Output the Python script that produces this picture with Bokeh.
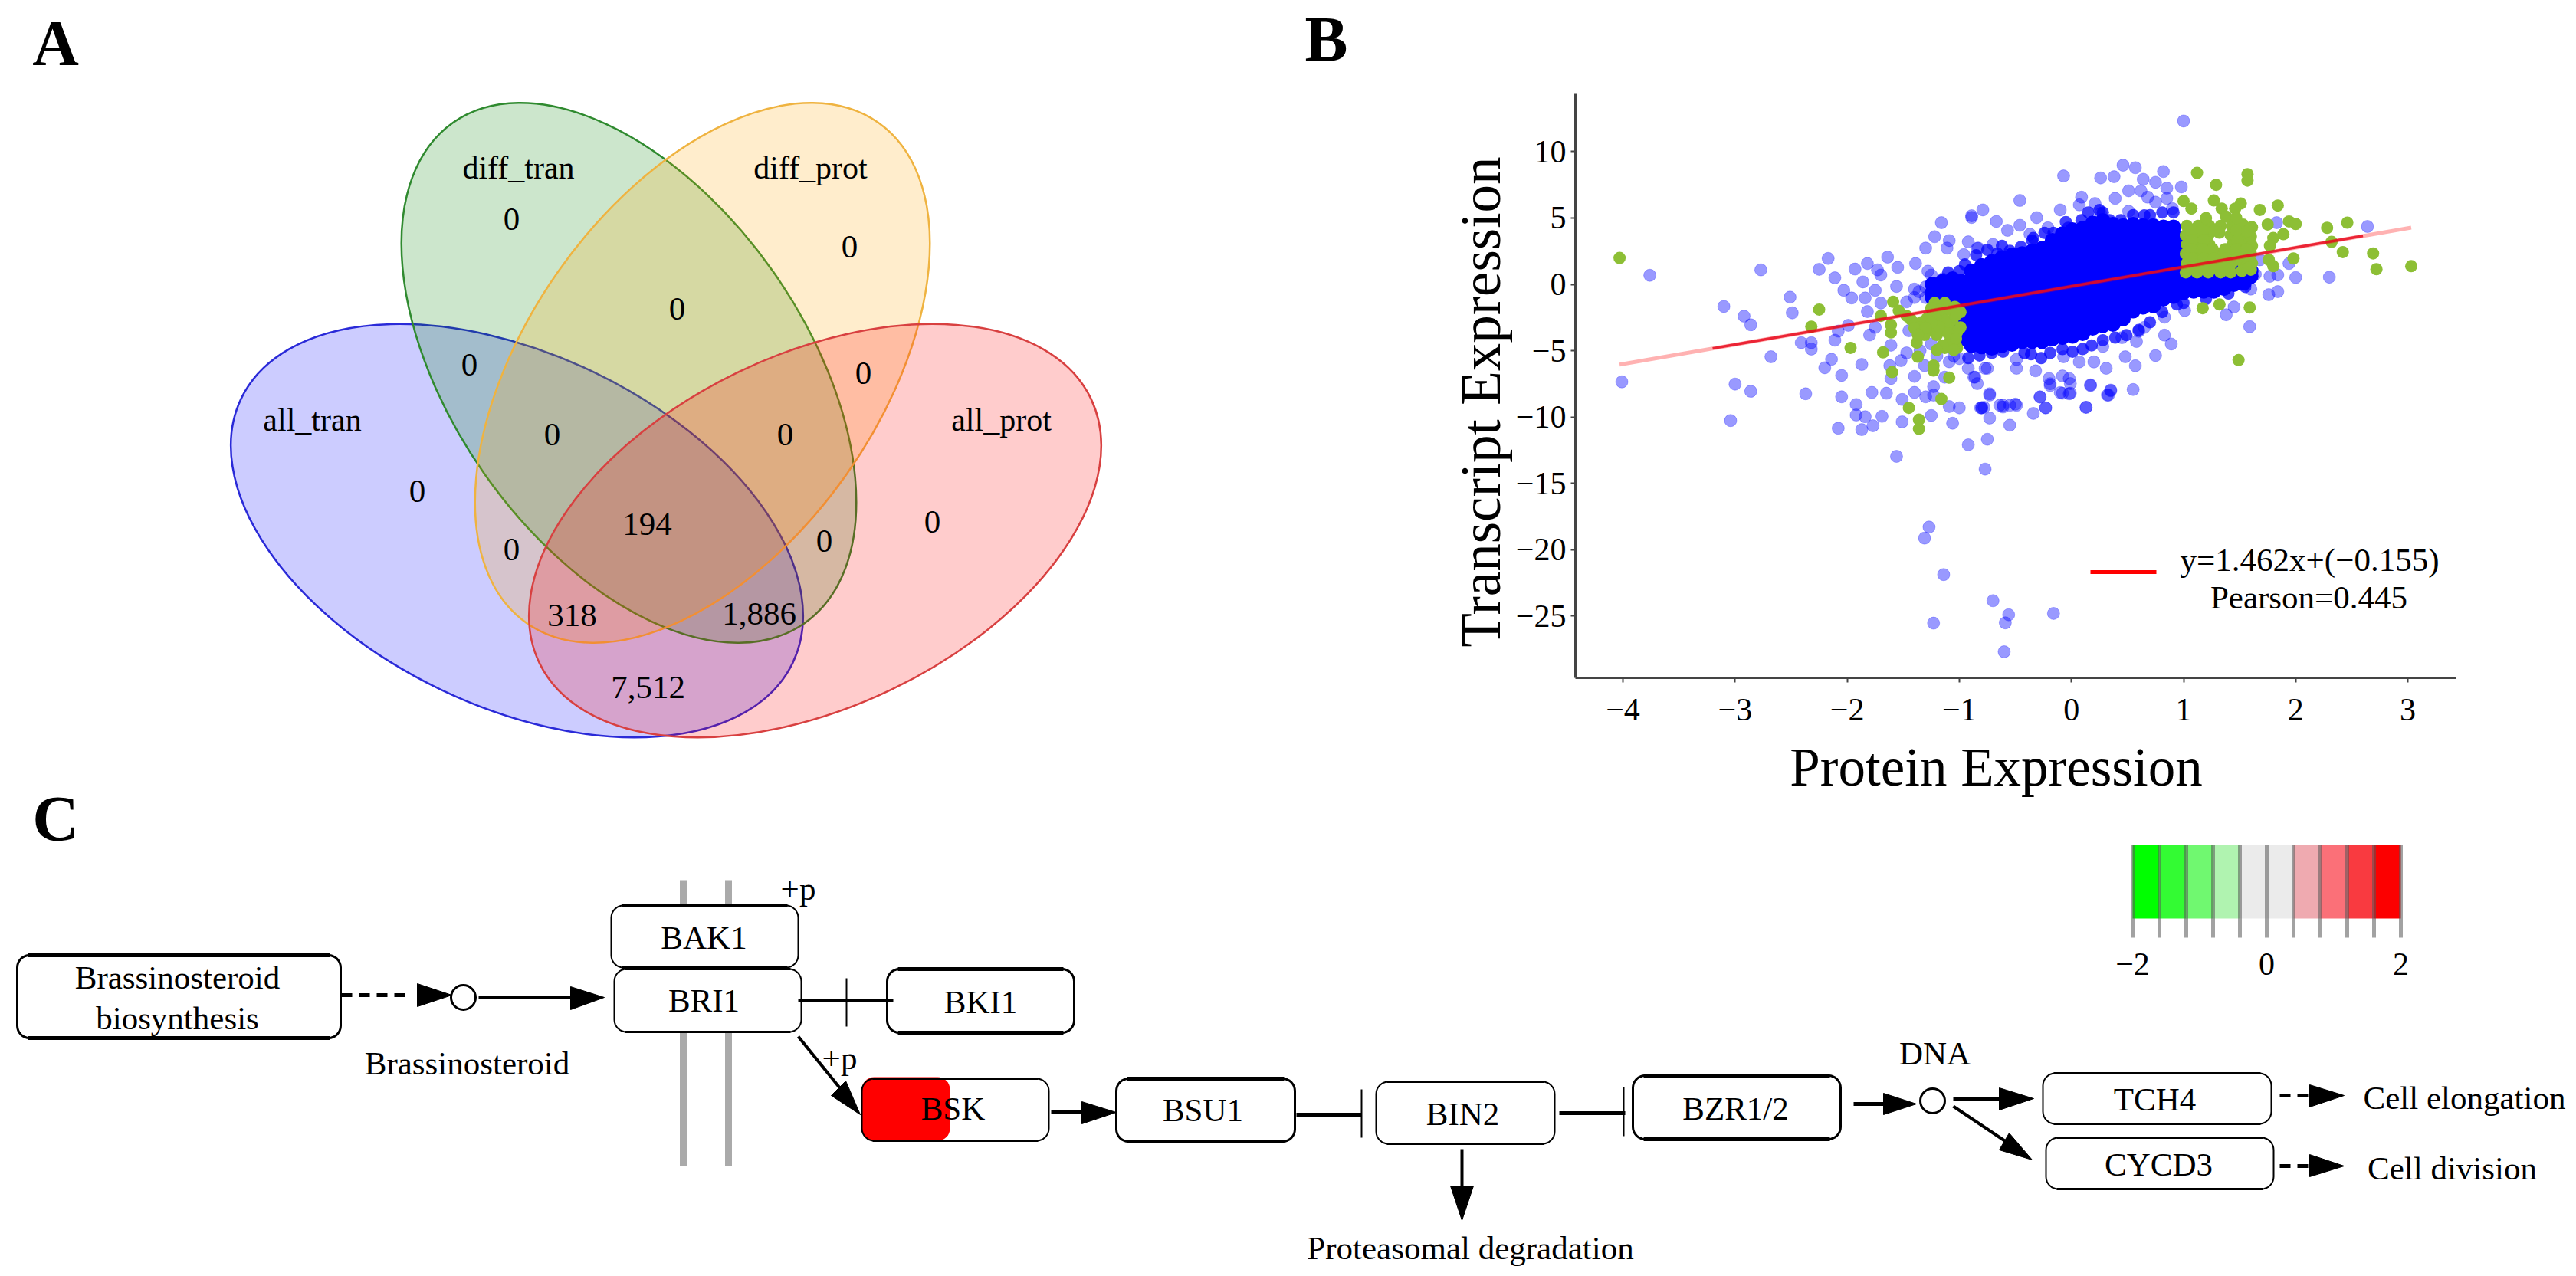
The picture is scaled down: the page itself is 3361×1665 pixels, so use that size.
import math
from bokeh.plotting import figure
from bokeh.models import Range1d, FixedTicker, LinearAxis
from bokeh.core.properties import value
from bokeh.embed import file_html
from bokeh.resources import INLINE

FONT = "Liberation Serif"

# ---------- Panel A data ----------
venn_sets = ["all_tran", "diff_tran", "diff_prot", "all_prot"]
venn_counts = ["0", "0", "0", "0", "0", "0", "0", "0", "0", "0", "0", "194", "318", "1,886", "7,512"]

# ---------- Panel B data ----------
blue_x = [-3.76,-2.77,-2.25,-2.17,-2.11,-1.93,-1.82,-1.64,-1.86,-2.51,-2.49,-3.10,-2.92,-2.86,-2.03,-1.96,-1.84,-1.75,-1.82,-1.70,-1.55,-1.73,-1.70,-1.56,-1.39,-1.28,-1.30,-1.22,-1.16,-0.89,-1.09,-0.96,-1.11,-0.83,-1.40,-1.47,-1.36,-1.99,-2.08,-2.11,-1.80,-1.75,-2.41,-2.32,-2.32,-2.68,-2.14,-2.20,-2.05,-1.87,-1.61,-1.47,-1.52,-1.62,-1.61,-1.40,-1.31,-1.09,-0.92,-0.86,-0.84,-0.77,-1.13,-4.01,-3.00,-2.86,-2.37,-2.05,-1.78,-1.65,-1.92,-1.92,-1.84,-1.69,-1.77,-1.87,-2.08,-3.04,-1.51,-1.40,-1.30,-1.23,-1.23,-1.09,-1.00,-1.25,-1.51,-1.06,-0.80,-0.73,-0.73,-0.75,-0.92,-1.56,-0.77,
          -1.27,-1.31,-1.14,-0.70,-0.56,-0.59,-0.16,-1.23,-0.60,-0.55,-0.34,-0.23,-0.28,0.13,-0.81,-0.78,-0.64,-0.61,-0.55,-0.49,-0.08,-0.01,0.17,0.35,0.33,-0.19,-0.01,
          1.00,-0.07,0.26,0.38,0.46,0.57,0.82,0.64,0.75,0.98,0.85,0.51,0.62,0.39,0.68,0.85,0.09,0.07,0.21,-0.46,-0.10,-0.89,-0.79,-0.67,-0.31,-0.46,-0.57,-0.21,-0.37,-0.92,-0.84,-0.70,0.51,0.90,0.26,0.75,
          1.83,2.64,2.30,2.00,1.94,1.84,1.77,1.64,1.60,1.84,1.76,1.68,1.59,1.45,1.38,1.01,0.83,0.65,0.60,0.83,0.89,0.75,0.45,0.28,0.58,0.48,0.57,0.31,0.20,0.07,-0.07,-0.49,-0.49,-0.32,-0.20,-0.19,-0.02,-0.08,-0.87,-0.75,0.17,0.35,0.55,0.32,-0.10,-0.02,-0.28,-0.23,0.13,-0.73,-0.80,-0.61,-0.50,
          -1.30,-1.20,-1.10,-1.05,-1.15,-1.25,-1.30,-1.40,-1.20,-1.10,-1.35,-1.45,-1.25,-1.35,-1.20,-1.05,-1.00]
blue_y = [0.68,1.09,1.13,1.95,0.49,1.15,1.57,2.05,0.18,-0.97,-2.15,-1.67,-2.40,-3.05,-0.45,-1.03,-1.03,-0.45,-2.05,-1.41,1.28,1.09,0.70,-0.16,1.57,0.99,2.73,3.59,4.65,5.04,3.30,2.24,2.73,2.73,-0.36,-1.32,-0.55,-3.09,-3.53,-4.21,-3.82,-3.25,-4.40,-4.40,-4.88,-5.46,-5.65,-6.29,-6.87,-6.04,-4.59,-5.17,-5.75,-6.13,-7.10,-6.94,-6.13,-5.84,-6.33,-7.00,-7.48,-6.33,-7.00,-7.35,-7.52,-8.06,-8.25,-8.48,-8.15,-8.21,-9.06,-9.85,-9.98,-9.95,-10.66,-10.95,-10.85,-10.27,-8.68,-8.15,-8.48,-7.71,-8.35,-9.21,-9.31,-9.89,-10.37,-10.47,-9.31,-8.25,-10.08,-11.68,-12.10,-12.97,-13.93,
          -18.30,-19.13,-21.88,-23.85,-24.91,-25.52,-24.81,-25.54,-27.70,-10.62,-9.73,-9.31,-8.48,-9.27,-9.31,-9.27,-9.12,-9.25,-9.12,-9.12,-8.21,-8.21,-7.63,-8.02,-8.35,-7.63,-7.48,
          12.31,8.17,8.02,8.11,8.98,8.79,8.50,7.92,7.69,7.34,7.25,7.05,7.05,6.48,6.57,6.48,6.57,5.99,6.09,6.32,5.61,5.17,5.61,4.74,5.03,4.45,4.07,4.26,3.78,3.20,2.72,3.01,5.51,5.71,5.32,6.19,
          4.65,4.36,0.54,0.51,1.57,0.70,0.60,0.76,-0.36,-0.55,-0.78,1.85,-3.19,-1.71,-2.29,-1.98,-2.48,-3.25,-3.54,-3.83,-4.50,-5.37,-4.02,-4.69,-4.31,-5.46,-6.14,-6.33,-5.85,-5.85,-5.46,-5.66,-6.33,-6.52,-7.10,-7.49,-7.10,-6.91,-7.00,-6.33,-7.58,-7.97,-7.93,-8.35,-8.16,-8.25,-8.50,-9.31,-9.27,-8.35,-9.31,-9.12,-9.03,
          -0.2,-0.6,-0.4,0.3,0.4,0.7,-1.0,-1.0,-1.1,-1.0,-3.6,-3.5,-4.5,-5.0,-5.4,-5.4,-5.6]

# points along the rim of the saturated cloud, where many overlap
edge_x = [-0.92,-0.82,-0.71,-0.61,-0.42,-0.36,-0.27,-0.19,-0.08,0.01,0.10,0.18,0.28,0.39,0.49,0.60,0.70,0.81,0.94,
          1.00,1.20,1.40,1.55,-0.95,-0.85,-0.75,-1.0,-1.1,
          -0.66,-0.55,-0.45,-0.34,-0.24,-0.16,-0.03,0.09,0.15,0.28,0.34,0.44,0.55,0.70,0.81,0.91,-0.62,-0.35,-0.05,0.25,0.65]
edge_y = [-5.56,-5.37,-5.17,-5.08,-5.17,-5.27,-5.56,-5.17,-4.88,-5.08,-4.88,-4.60,-4.21,-4.02,-3.83,-3.44,-2.86,-2.09,-1.52,
          -1.4,-1.1,-0.7,-0.2,1.5,2.2,2.6,1.0,0.9,
          2.33,2.53,2.82,3.49,3.88,3.88,4.26,4.84,5.42,5.42,4.84,4.84,5.22,5.22,5.42,5.42,2.9,3.3,4.7,5.6,5.2]

# the saturated centre of the cloud: one x with the y values read at that x
core_x = [-1.24,-1.15,-1.06,-0.98,-0.89,-0.80,-0.71,-0.62,-0.53,-0.44,-0.35,-0.26,-0.17,-0.08,0.01,0.10,0.19,0.28,0.37,0.46,0.55,0.64,0.73,0.82,0.91,1.00,1.09,1.18,1.27,1.36,1.45,1.54,1.60]
core_y = [[0.0,-0.6,-1.0],[0.2,-0.4,-1.0],[0.4,-0.2,-0.8,-1.4],
 [0.2,-0.4,-1.0,-1.7,-2.3,-2.9,-3.5,-4.1],
 [1.0,0.4,-0.3,-0.9,-1.5,-2.1,-2.7,-3.3,-4.0,-4.6],
 [1.4,0.8,0.1,-0.5,-1.1,-1.8,-2.4,-3.0,-3.6,-4.2,-4.7],
 [1.7,1.1,0.4,-0.2,-0.8,-1.4,-2.0,-2.6,-3.3,-3.9,-4.5,-4.8],
 [2.0,1.4,0.8,0.2,-0.5,-1.1,-1.7,-2.3,-2.9,-3.6,-4.2,-4.6],
 [2.2,1.6,1.0,0.4,-0.2,-0.8,-1.4,-2.0,-2.7,-3.3,-3.9,-4.5],
 [2.3,1.7,1.1,0.5,-0.1,-0.7,-1.3,-1.9,-2.5,-3.1,-3.7,-4.3],
 [2.5,1.9,1.3,0.7,0.0,-0.6,-1.2,-1.8,-2.4,-3.1,-3.7,-4.3],
 [2.7,2.1,1.5,0.9,0.3,-0.3,-1.0,-1.6,-2.2,-2.8,-3.4,-4.0,-4.3],
 [3.3,2.7,2.1,1.4,0.8,0.2,-0.4,-1.0,-1.6,-2.3,-2.9,-3.5,-4.1],
 [3.8,3.2,2.6,2.0,1.4,0.8,0.1,-0.5,-1.1,-1.7,-2.3,-2.9,-3.5,-4.0],
 [4.1,3.5,2.9,2.2,1.6,1.0,0.4,-0.2,-0.8,-1.5,-2.1,-2.7,-3.3,-3.9],
 [4.2,3.6,3.0,2.4,1.8,1.2,0.6,-0.1,-0.7,-1.3,-1.9,-2.5,-3.1,-3.7],
 [4.6,4.0,3.4,2.7,2.1,1.5,0.9,0.3,-0.3,-1.0,-1.6,-2.2,-2.8,-3.3],
 [4.8,4.2,3.6,3.0,2.4,1.8,1.2,0.5,-0.1,-0.7,-1.3,-1.9,-2.5,-3.1],
 [4.5,3.9,3.3,2.7,2.0,1.4,0.8,0.2,-0.4,-1.1,-1.7,-2.3,-3.0],
 [4.4,3.8,3.2,2.6,2.0,1.4,0.7,0.1,-0.5,-1.1,-1.7,-2.3,-2.6],
 [4.5,3.9,3.3,2.6,2.0,1.4,0.8,0.2,-0.4,-1.0,-1.6,-2.0],
 [4.4,3.8,3.2,2.6,2.0,1.3,0.7,0.1,-0.5,-1.1,-1.7],
 [4.4,3.8,3.1,2.5,1.9,1.3,0.7,0.1,-0.6,-1.2,-1.6],
 [4.3,3.7,3.1,2.5,1.9,1.2,0.6,0.0,-0.6,-1.1],
 [4.3,3.7,3.0,2.4,1.8,1.2,0.6,0.0,-0.6,-0.9],
 [3.5,2.9,2.3,1.7,1.0,0.4,-0.2,-0.6],
 [1.5,0.9,0.3,-0.3,-0.5],[1.5,0.9,0.3,-0.2,-0.5],[1.5,0.9,0.3,-0.3,-0.5],
 [1.5,0.9,0.3,-0.3],[1.5,0.9,0.3,0.0],[1.5,0.9,0.4,0.1],[1.0,0.6]]

green_x = [-4.03,-2.25,-2.32,-1.97,-1.68,-1.60,-1.45,-1.36,-1.36,-1.16,-1.09,-1.23,-1.37,-1.61,-1.61,-1.59,-1.54,-1.70,
           -1.22,-1.13,-1.04,-0.99,-1.06,-0.99,-1.15,-1.24,-1.34,-1.43,-1.27,-1.36,-1.20,-1.38,-1.31,-1.13,-1.02,-1.09,-1.47,-1.09,-1.15,-1.23,
           -1.17,-1.08,-1.25,-1.29,-1.20,-1.12,-1.03,-1.02,-1.10,-1.03,-1.18,-1.25,-1.40,-1.30,-1.37,-1.15,-1.05,-1.20,
           1.12,1.57,1.57,1.29,1.00,1.07,1.27,1.34,1.51,1.46,1.68,1.84,1.75,1.94,2.00,1.89,1.80,1.77,2.28,2.46,2.32,2.42,2.69,2.72,3.03,1.98,1.80,1.76,1.17,1.32,1.59,1.49,
           1.03,1.02,1.03,1.02,1.03,1.02,1.13,1.12,1.13,1.12,1.13,1.12,1.23,1.22,1.23,1.22,1.23,1.22,1.33,1.32,1.33,1.32,1.33,1.43,1.42,1.43,1.42,1.43,1.42,1.53,1.52,1.53,1.52,1.53,1.52,1.61,1.60,1.61,1.60,1.61,1.60,1.20,1.38,1.47,
           1.07,1.08,1.07,1.08,1.07,1.17,1.18,1.17,1.18,1.17,1.27,1.26,1.27,1.28,1.37,1.38,1.37,1.47,1.48,1.47,1.48,1.57,1.56,1.57,1.58]
green_y = [1.99,-1.90,-3.19,-4.79,-5.13,-6.62,-9.31,-10.20,-10.90,-8.64,-7.04,-6.13,-5.46,-3.63,-3.05,-1.32,-2.00,-2.38,
           -1.41,-1.41,-1.70,-2.09,-2.67,-3.25,-2.47,-2.28,-2.86,-2.67,-3.44,-3.25,-3.82,-4.40,-3.82,-4.79,-4.79,-4.40,-2.38,-3.25,-3.25,-6.50,
           -1.90,-1.90,-1.80,-2.60,-2.70,-2.90,-2.30,-3.60,-3.70,-4.10,-3.20,-2.90,-3.30,-3.30,-3.80,-4.60,-4.95,-4.95,
           8.40,8.31,7.82,7.50,6.28,5.71,6.32,5.71,6.09,5.71,5.61,5.94,4.51,4.74,4.55,3.78,3.49,2.91,4.26,4.65,3.20,2.43,2.33,1.14,1.37,1.95,1.37,1.85,-1.80,-1.52,-1.75,-5.71,
           4.4,3.7,3.0,2.3,1.6,0.9,4.4,3.7,3.0,2.3,1.6,0.9,4.4,3.7,3.0,2.3,1.6,0.9,4.4,3.9,2.3,1.6,0.9,4.4,3.7,2.9,2.3,1.6,0.9,4.5,3.7,3.0,2.3,1.6,1.0,4.3,3.6,2.9,2.3,1.6,1.1,5.0,5.1,5.0,
           4.05,3.35,2.65,1.95,1.25,4.05,3.35,2.65,1.95,1.25,4.05,2.65,1.95,1.25,2.65,1.95,1.25,4.05,3.3,2.65,1.95,4.0,2.65,1.95,1.25]

fit_x = [-4.03, 3.03]
fit_y = [-6.05, 4.27]
fit_core_x = [-3.2, 2.6]
fit_core_y = [-4.83, 3.65]
x_ticks = [-4, -3, -2, -1, 0, 1, 2, 3]
y_ticks = [-25, -20, -15, -10, -5, 0, 5, 10]

# ---------- Panel C data ----------
scale_values = [-2.0, -1.6, -1.2, -0.8, -0.4, 0.0, 0.4, 0.8, 1.2, 1.6, 2.0]
scale_colors = ["#00ff00", "#33fb33", "#70f870", "#b0f3b0", "#ebebeb", "#ebebeb", "#efaab0", "#fb7078", "#f93a40", "#fc0000"]
scale_labels = ["\u22122", "0", "2"]
gene_names = ["Brassinosteroid\nbiosynthesis", "BAK1", "BRI1", "BKI1", "BSK", "BSU1", "BIN2", "BZR1/2", "TCH4", "CYCD3"]

# One canvas. Its default ranges are the page layout; panel B's values have their own ranges.
W, H = 3353, 1657
p = figure(width=W, height=H, x_range=Range1d(0, W), y_range=Range1d(H, 0),
           output_backend="svg", toolbar_location=None, min_border=0,
           x_axis_type=None, y_axis_type=None, outline_line_color=None)
p.grid.visible = False

PX_X, PX_Y = 146.3, 17.31   # panel B: layout units per data unit
X0, Y0 = 2117 + 4 * PX_X, 370.5   # layout position of data (0, 0)
p.extra_x_ranges = {"bx": Range1d((0 - X0) / PX_X, (W - X0) / PX_X)}
p.extra_y_ranges = {"by": Range1d((Y0 - H) / PX_Y, (Y0 - 0) / PX_Y)}

def put(x, y, txt, size=43, **kw):
    p.text([x], [y], text=[txt], text_font=value(FONT), text_font_size=f"{size}px",
           text_align=kw.pop("align", "center"), text_baseline=kw.pop("baseline", "middle"),
           text_color="black", **kw)

# =============== Panel A ===============
ell_fill = ["#0000ff", "#008000", "#ffa500", "#ff0000"]
ell_line = ["#2a2ad8", "#2f8a2f", "#efb340", "#d84040"]
ell_cx = [674, 820, 916, 1063]
ell_cy = [692, 486, 486, 692]
ell_ang = [-25.6, -54.9, 54.9, 25.6]
for cx, cy, ang, fc, lc in zip(ell_cx, ell_cy, ell_ang, ell_fill, ell_line):
    p.ellipse([cx], [cy], width=798, height=460, angle=math.radians(ang),
              fill_color=fc, fill_alpha=0.2, line_color=lc, line_width=2.5)
set_pos = [(407, 547), (676, 218), (1057, 218), (1306, 547)]
for (x, y), t in zip(set_pos, venn_sets):
    put(x, y, t, 42)
count_pos = [(667,285),(1108,321),(883,402),(612,475),(1126,486),(720,566),(1024,566),(544,640),(1216,680),(667,716),(1075,705),(844,683),(746,802),(990,800),(845,896)]
for (x, y), t in zip(count_pos, venn_counts):
    put(x, y, t, 43)
put(72, 56, "A", 84, text_font_style="bold")

# =============== Panel B ===============
R = dict(x_range_name="bx", y_range_name="by")
p.scatter(blue_x, blue_y, size=16, fill_color="#0000ff", fill_alpha=0.4, line_color="#0000ff", line_alpha=0.25, line_width=1, **R)
p.scatter(edge_x, edge_y, size=16, fill_color="#0000ff", fill_alpha=0.75, line_color=None, **R)
cx = [x for x, ys in zip(core_x, core_y) for _ in ys]
cy = [y for ys in core_y for y in ys]
p.scatter(cx, cy, size=16, fill_color="#0000ff", line_color="#0000ff", line_width=4, **R)
p.scatter(green_x, green_y, size=16, fill_color="#8dbf35", line_color=None, **R)
p.line(fit_x, fit_y, line_color="#ff0000", line_alpha=0.3, line_width=5, **R)
p.line(fit_core_x, fit_core_y, line_color="#e80a1e", line_alpha=0.85, line_width=3.5, **R)

xax = LinearAxis(x_range_name="bx", fixed_location=884, bounds=(-4.424, 3.43))
yax = LinearAxis(y_range_name="by", fixed_location=2055, bounds=(-29.66, 14.36))
p.add_layout(xax, "below")
p.add_layout(yax, "left")
for ax, ticks in ((xax, x_ticks), (yax, y_ticks)):
    ax.ticker = FixedTicker(ticks=ticks)
    ax.major_label_overrides = {t: str(t).replace("-", "\u2212") for t in ticks}
    ax.axis_line_color = "#444444"
    ax.axis_line_width = 3
    ax.major_tick_line_color = "#444444"
    ax.major_tick_line_width = 2
    ax.major_tick_in = 0
    ax.major_tick_out = 6
    ax.minor_tick_line_color = None
    ax.major_label_text_font = FONT
    ax.major_label_text_font_size = "42px"
    ax.major_label_text_color = "black"
xax.major_label_standoff = 21
yax.major_label_standoff = 6

put(2604, 1000, "Protein Expression", 71)
put(1932, 524, "Transcript Expression", 73, angle=math.pi / 2)
put(1730, 51, "B", 84, text_font_style="bold")
put(3013, 730, "y=1.462x+(\u22120.155)", 43)
put(3012, 779, "Pearson=0.445", 43)
p.line([2727, 2813], [746, 746], line_color="#ff0000", line_width=5)

# =============== Panel C ===============
put(72, 1068, "C", 84, text_font_style="bold")
p.segment([891, 950], [1148, 1148], [891, 950], [1521, 1521], line_color="#aaaaaa", line_width=9)

def rr(x1, y1, x2, y2, r=16):
    xs, ys = [], []
    for cx_, cy_, a0 in ((x2 - r, y1 + r, -90), (x2 - r, y2 - r, 0), (x1 + r, y2 - r, 90), (x1 + r, y1 + r, 180)):
        for k in range(9):
            a = math.radians(a0 + k * 90 / 8)
            xs.append(cx_ + r * math.cos(a))
            ys.append(cy_ + r * math.sin(a))
    return xs, ys

boxes = [(22,1246,444,1354,True,231,None),(797,1181,1041,1262,False,918,1223),(801,1264,1045,1346,False,918,1305),
         (1157,1264,1401,1347,True,1279,1307),(1124,1407,1368,1488,False,1243,1446),(1456,1407,1689,1489,True,1569,1448),
         (1795,1411,2028,1492,False,1908,1453),(2130,1403,2401,1486,True,2264,1446),(2665,1400,2963,1466,False,2811,1434),
         (2669,1484,2966,1551,False,2816,1519)]
for b in boxes:
    xs, ys = rr(b[0], b[1], b[2], b[3])
    p.patch(xs, ys, fill_color="white", line_color=None)
xs, ys = rr(1124, 1405, 1239, 1488)
p.patch(xs, ys, fill_color="#ff0000", line_color=None)
for b, name in zip(boxes, gene_names):
    x1, y1, x2, y2, bold, tx, ty = b
    xs, ys = rr(x1, y1, x2, y2)
    p.patch(xs, ys, fill_color=None, line_color="black", line_width=3 if bold else 2)
    th = 5 if bold else 3
    p.segment([x1 + 14, x1 + 14], [y1, y2], [x2 - 14, x2 - 14], [y1, y2], line_color="black", line_width=th)
    if ty is None:
        a, b_ = name.split("\n")
        put(tx, 1275, a)
        put(tx, 1328, b_)
    else:
        put(tx, ty, name)

def head(x_tip, y_tip, xa, ya, xb, yb):
    p.patch([x_tip, xa, xb], [y_tip, ya, yb], fill_color="black", line_color="black", line_width=1)

def hline(x1, x2, y, w=5, dash=None):
    if dash:
        p.line([x1, x2], [y, y], line_color="black", line_width=w, line_dash=dash)
    else:
        p.line([x1, x2], [y, y], line_color="black", line_width=w)

# Brassinosteroid arrows
hline(445, 537, 1298, 5, "14 9")
head(589, 1298, 544, 1283, 544, 1313)
p.circle([604], [1301], radius=16, fill_color="white", line_color="black", line_width=3)
hline(624, 748, 1301)
head(788, 1301, 744, 1287, 744, 1317)
put(609, 1387, "Brassinosteroid")
# BRI1 -| BKI1
hline(1041, 1165, 1305)
p.line([1104, 1104], [1276, 1339], line_color="black", line_width=2)
# BRI1 -> BSK
p.line([1041, 1100], [1352, 1425], line_color="black", line_width=4)
head(1122, 1454, 1103, 1410, 1084, 1429)
put(1041, 1159, "+p")
put(1095, 1380, "+p")
# BSK -> BSU1
hline(1371, 1415, 1451)
head(1456, 1451, 1411, 1437, 1411, 1466)
# BSU1 -| BIN2
hline(1691, 1776, 1454)
p.line([1776, 1776], [1421, 1484], line_color="black", line_width=2)
# BIN2 -| BZR
hline(2034, 2120, 1452)
p.line([2118, 2118], [1418, 1482], line_color="black", line_width=2)
# BIN2 -> down
p.line([1907, 1907], [1499, 1550], line_color="black", line_width=4)
head(1907, 1592, 1892, 1547, 1922, 1547)
put(1918, 1628, "Proteasomal degradation")
# BZR -> DNA
hline(2418, 2460, 1440)
head(2500, 1440, 2457, 1426, 2457, 1454)
p.circle([2521], [1436], radius=16, fill_color="white", line_color="black", line_width=3)
put(2524, 1374, "DNA")
hline(2548, 2612, 1433)
head(2653, 1433, 2608, 1419, 2608, 1448)
p.line([2548, 2618], [1443, 1490], line_color="black", line_width=4)
head(2651, 1513, 2621, 1478, 2608, 1500)
# outputs
hline(2974, 3015, 1429, 5, "14 9")
head(3058, 1429, 3013, 1415, 3013, 1444)
hline(2974, 3015, 1521, 5, "14 9")
head(3058, 1521, 3013, 1506, 3013, 1535)
put(3215, 1432, "Cell elongation")
put(3199, 1524, "Cell division")

# colour scale
sx = lambda v: 2782 + (v + 2) * 87.5
p.quad(left=[sx(v) for v in scale_values[:-1]], right=[sx(v) for v in scale_values[1:]],
       top=[1102] * 10, bottom=[1198] * 10, fill_color=scale_colors, line_color=None)
p.segment([sx(v) for v in scale_values], [1102] * 11, [sx(v) for v in scale_values], [1223] * 11,
          line_color="#555555", line_alpha=0.55, line_width=5)
for v, t in zip((-2.0, 0.0, 2.0), scale_labels):
    put(sx(v), 1257, t, 42)

open("out.html", "w").write(file_html(p, INLINE))
